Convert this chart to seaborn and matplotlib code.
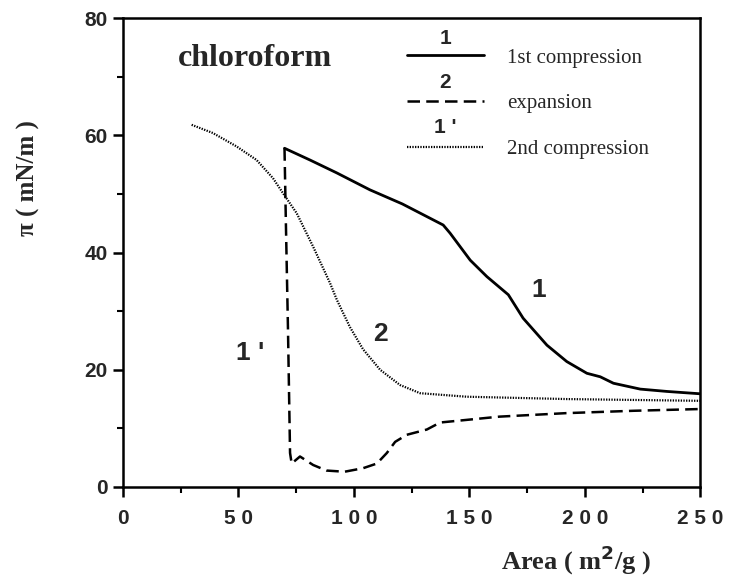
import seaborn as sns
import matplotlib
matplotlib.use("Agg")
import matplotlib.pyplot as plt
from matplotlib.ticker import MultipleLocator

# surface pressure isotherms, chloroform spread film
comp1_x = [70, 81, 92.6, 107, 121, 138.7, 141.7, 150.4, 157.6, 166.9, 173.3,
           183.6, 192.2, 200.9, 206.7, 212.4, 224, 235.6, 250]
comp1_y = [57.8, 55.8, 53.6, 50.7, 48.3, 44.7, 43.3, 38.7, 35.9, 32.8, 28.8,
           24.2, 21.4, 19.4, 18.8, 17.7, 16.7, 16.3, 15.9]

exp_x = [70, 70.6, 71.5, 72.4, 73.1, 76.7, 82.4, 88.2, 96, 104, 110, 114.3,
         117.9, 122.9, 131.6, 137.4, 163, 192, 221, 250]
exp_y = [57.8, 45, 27, 5.8, 4.0, 5.2, 3.75, 2.8, 2.6, 3.2, 4.0, 5.8,
         7.7, 8.9, 9.8, 11.0, 12.0, 12.6, 13.0, 13.3]

comp2_x = [29.8, 39, 49.3, 57.9, 65, 69.4, 75.3, 82.4, 89.7, 92.7, 98.3, 104,
           111.4, 120, 128.7, 148.9, 192.2, 250]
comp2_y = [61.8, 60.4, 58.1, 55.8, 52.7, 50.1, 46.7, 41, 34.8, 31.9, 27.3, 23.5,
           20, 17.4, 16, 15.4, 15.0, 14.7]

labels = ["1st compression", "expansion", "2nd compression"]
curve_ids = ["1", "2", "1 '"]
xticks = [0, 50, 100, 150, 200, 250]
xticklabels = ["0", "5 0", "1 0 0", "1 5 0", "2 0 0", "2 5 0"]
yticks = [0, 20, 40, 60, 80]

sns.set_style("ticks")
plt.rcParams['font.family'] = ['Liberation Sans', 'DejaVu Sans']
serif = ['Liberation Serif', 'DejaVu Serif']

fig = plt.figure(figsize=(7.31, 5.86), dpi=100)
ax = fig.add_axes([0.168, 0.169, 0.79, 0.80])

sns.lineplot(x=comp1_x, y=comp1_y, sort=False, color='k', lw=2.0,
             label=labels[0], ax=ax)
sns.lineplot(x=exp_x, y=exp_y, sort=False, color='k', lw=1.8,
             linestyle=(0, (5, 2.5)), label=labels[1], ax=ax)
sns.lineplot(x=comp2_x, y=comp2_y, sort=False, color='k', lw=1.6,
             linestyle=(0, (0.6, 0.6)), label=labels[2], ax=ax)

ax.set_xlim(0, 250)
ax.set_ylim(0, 80)
ax.set_xticks(xticks)
ax.set_xticklabels(xticklabels)
ax.set_yticks(yticks)
ax.xaxis.set_minor_locator(MultipleLocator(25))
ax.yaxis.set_minor_locator(MultipleLocator(10))
ax.tick_params(which='major', direction='out', length=7, width=1.8,
               labelsize=15, color='k')
ax.tick_params(which='minor', direction='out', length=4, width=1.5, color='k')
ax.tick_params(axis='x', pad=9)
ax.tick_params(axis='y', pad=4)
for t in ax.get_xticklabels() + ax.get_yticklabels():
    t.set_fontweight('bold')
for s in ax.spines.values():
    s.set_linewidth(1.8)
    s.set_color('k')

ax.set_ylabel("π ( mN/m )", family=serif, fontsize=18, fontweight='bold')
ax.yaxis.set_label_coords(-0.143, 0.659)
ax.set_xlabel("Area ( m$^{\\mathbf{2}}$/g )", family=serif, fontsize=19,
              fontweight='bold')
ax.xaxis.set_label_coords(0.785, -0.12)

ax.text(0.095, 0.915, "chloroform", transform=ax.transAxes, family=serif,
        fontsize=23, fontweight='bold', va='center', ha='left')

leg = ax.legend(loc='upper left', bbox_to_anchor=(0.492, 0.936), frameon=False,
                prop={'family': serif, 'size': 15}, handlelength=3.7,
                handletextpad=1.1, labelspacing=1.25, borderpad=0,
                borderaxespad=0)
for i, cid in enumerate(curve_ids):
    ax.text(0.558, 0.957 - i * 0.095, cid, transform=ax.transAxes,
            fontsize=15, fontweight='bold', ha='center', va='center')

# curve labels
ax.text(180, 33.6, "1", fontsize=19, fontweight='bold', ha='center', va='center')
ax.text(111.4, 26.1, "2", fontsize=19, fontweight='bold', ha='center', va='center')
ax.text(55, 22.9, "1 '", fontsize=19, fontweight='bold', ha='center', va='center')

fig.savefig("out.png", dpi=100)
